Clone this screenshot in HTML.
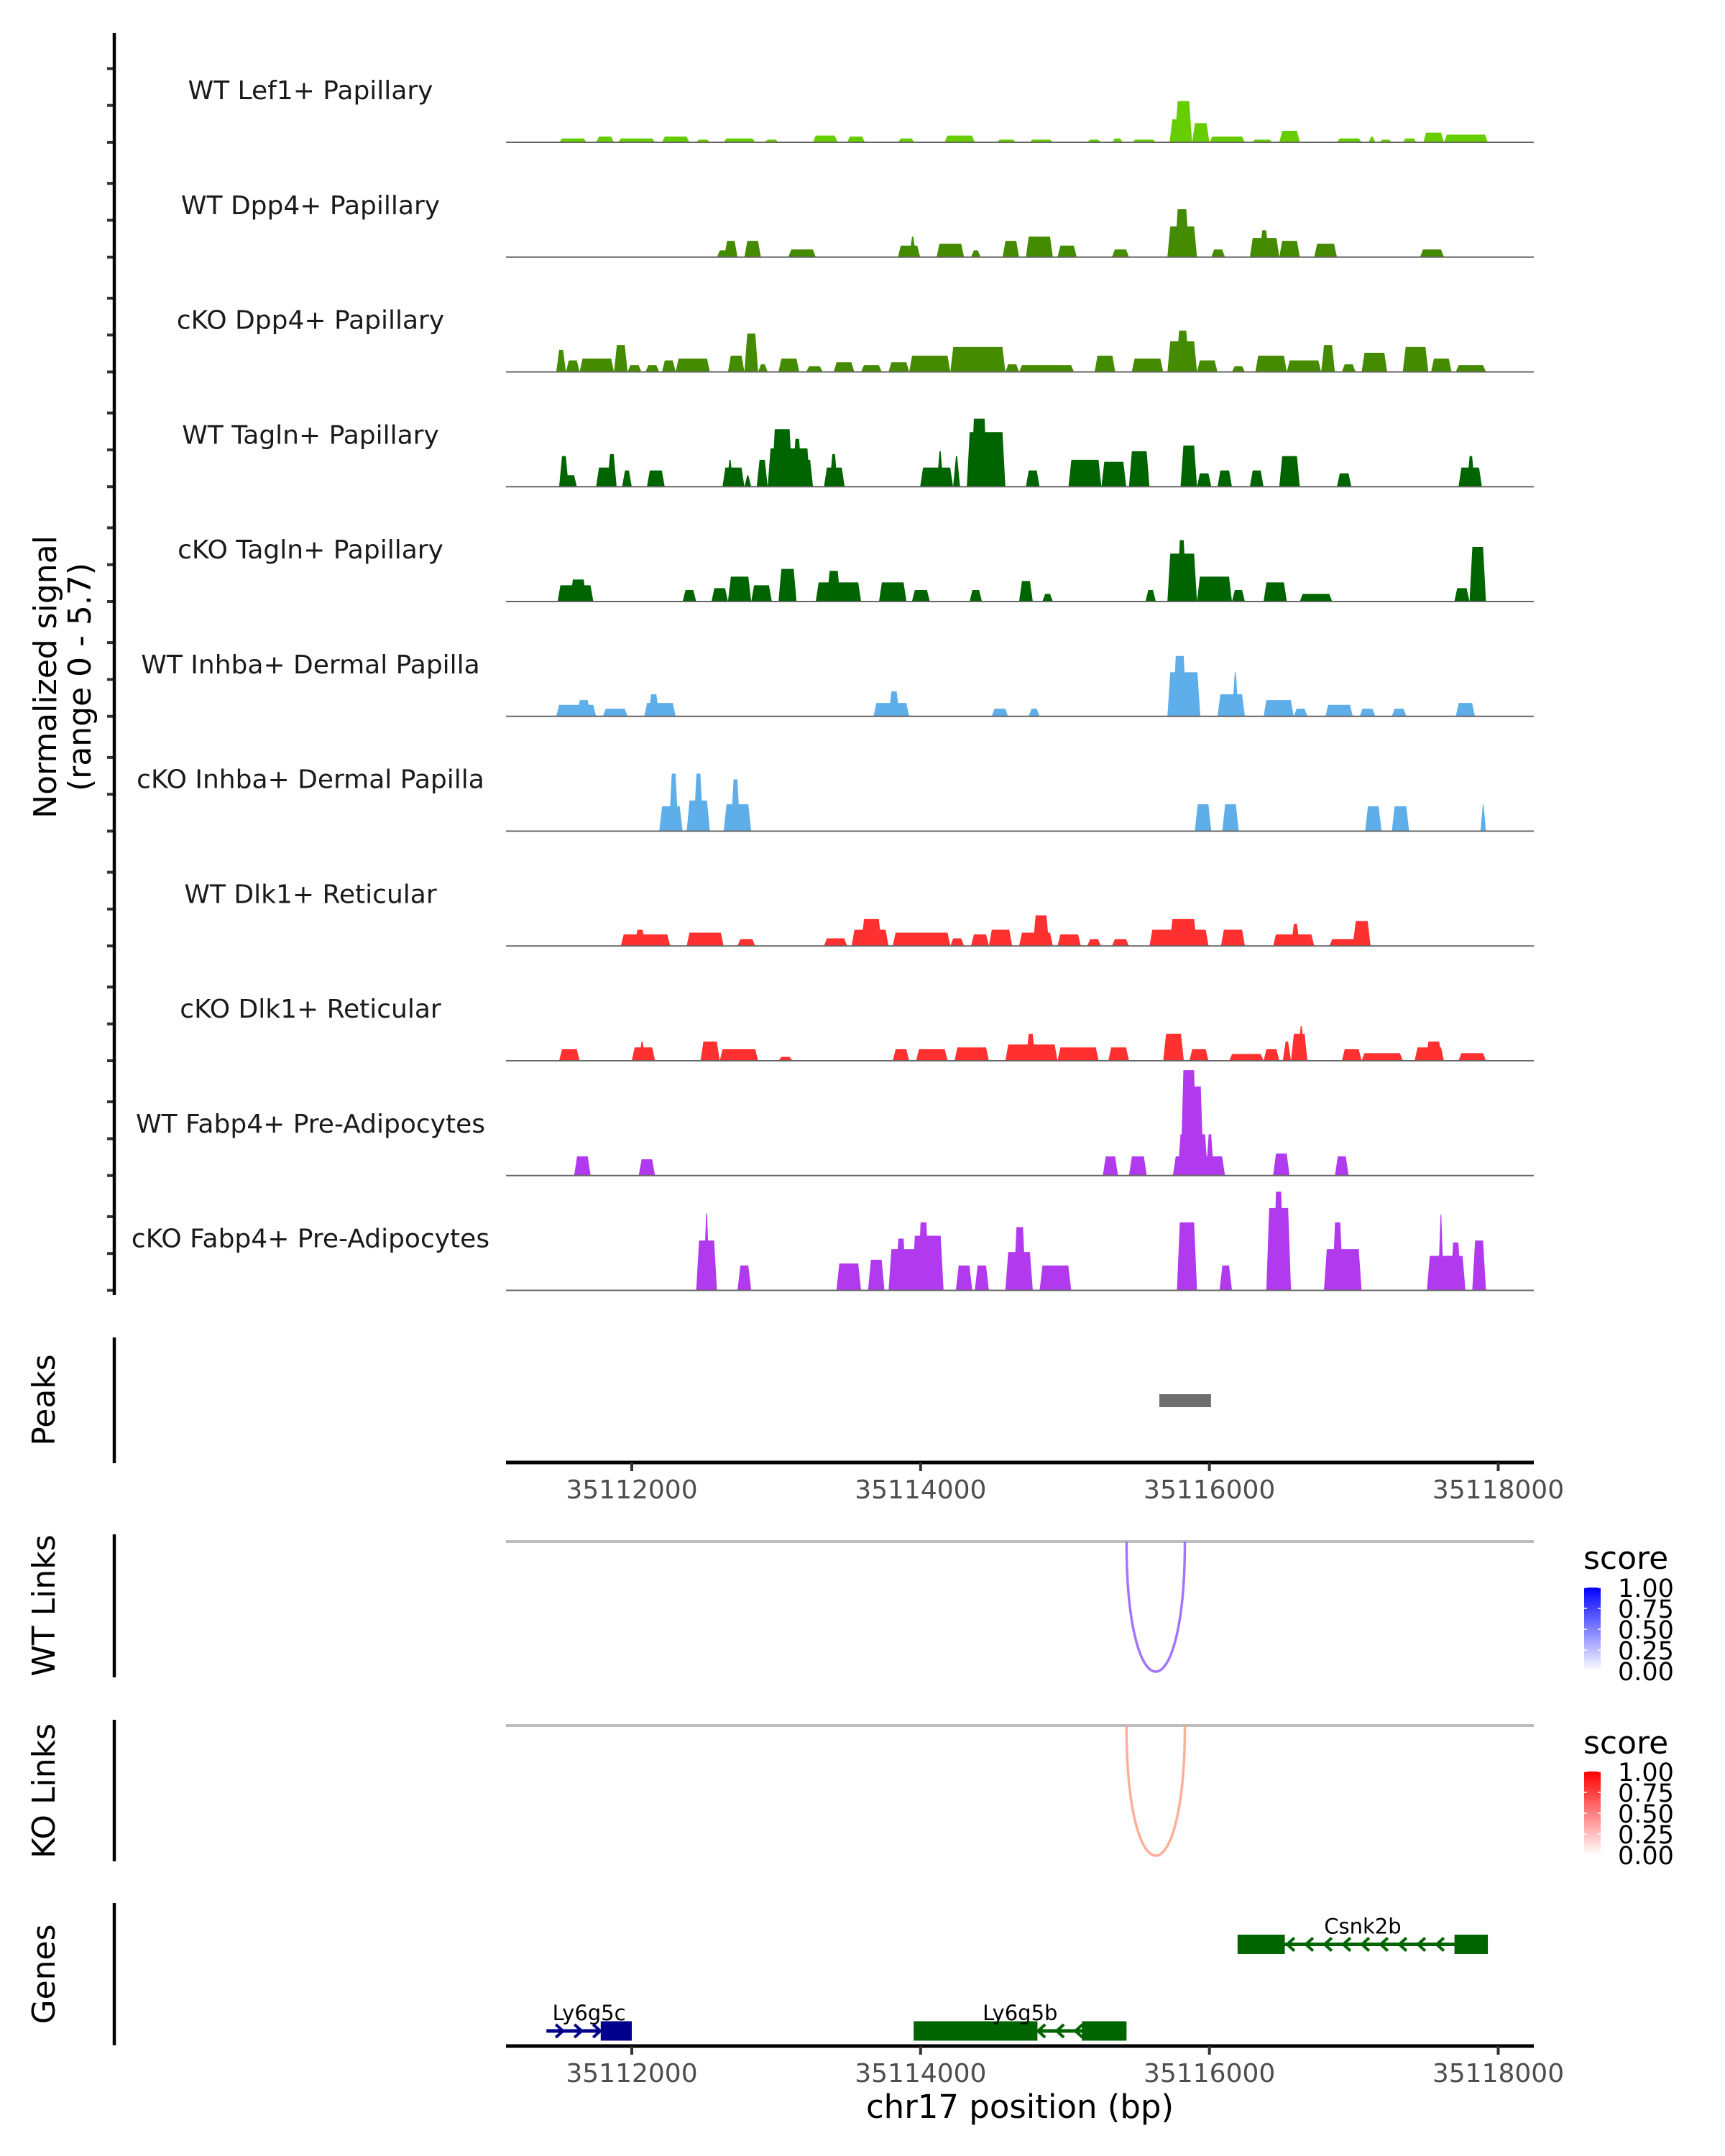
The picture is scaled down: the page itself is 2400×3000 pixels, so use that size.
<!DOCTYPE html>
<html><head><meta charset="utf-8"><style>
html,body{margin:0;padding:0;background:#fff;}
svg{display:block;font-family:"DejaVu Sans","Liberation Sans",sans-serif;}
</style></head><body>
<svg id="chart" xmlns="http://www.w3.org/2000/svg" width="2400" height="3000" viewBox="0 0 2400 3000">
<defs>
<linearGradient id="gradWT" x1="0" y1="1" x2="0" y2="0"><stop offset="0" stop-color="#ffffff"/><stop offset="1" stop-color="#0000ff"/></linearGradient>
<linearGradient id="gradKO" x1="0" y1="1" x2="0" y2="0"><stop offset="0" stop-color="#ffffff"/><stop offset="1" stop-color="#ff0000"/></linearGradient>
</defs>
<g id="tracks"></g>
<g id="axes"></g>
<text transform="translate(78,942) rotate(-90)" text-anchor="middle" font-size="44" fill="#000">Normalized signal</text>
<text transform="translate(126,942) rotate(-90)" text-anchor="middle" font-size="44" fill="#000">(range 0 - 5.7)</text>
</svg>
<script>
const trackNames = ["WT Lef1+ Papillary","WT Dpp4+ Papillary","cKO Dpp4+ Papillary","WT Tagln+ Papillary","cKO Tagln+ Papillary","WT Inhba+ Dermal Papilla","cKO Inhba+ Dermal Papilla","WT Dlk1+ Reticular","cKO Dlk1+ Reticular","WT Fabp4+ Pre-Adipocytes","cKO Fabp4+ Pre-Adipocytes"];
const trackColors = ["#66cd00","#458b00","#458b00","#006400","#006400","#5eaeea","#5eaeea","#ff3030","#ff3030","#b23aee","#b23aee"];
const lef1WT = [[35111497,35111687,0.2],[35111753,35111877,0.3],[35111905,35112161,0.2],[35112209,35112399,0.3],[35112446,35112541,0.14],[35112636,35112855,0.2],[35112921,35113016,0.14],[35113254,35113425,0.35],[35113491,35113615,0.3],[35113843,35113957,0.2],[35114166,35114375,0.35],[35114527,35114660,0.14],[35114755,35114916,0.14],[35115154,35115249,0.14],[35115325,35115401,0.2],[35115467,35115629,0.14],[35115724,35115800,1.2],[35115760,35115880,2.15],[35115880,35116000,1.0],[35116000,35116246,0.3],[35116294,35116436,0.14],[35116484,35116626,0.6],[35116883,35117054,0.2],[35117101,35117149,0.3],[35117177,35117263,0.14],[35117339,35117434,0.2],[35117481,35117624,0.5],[35117624,35117928,0.4]];
const dpp4WT = [[35112590,35112666,0.35],[35112640,35112732,0.85],[35112780,35112894,0.85],[35113084,35113274,0.4],[35113843,35113997,0.6],[35113921,35113969,1.07],[35114111,35114301,0.7],[35114349,35114416,0.35],[35114568,35114682,0.85],[35114729,35114916,1.07],[35114948,35115081,0.6],[35115325,35115443,0.4],[35115709,35115914,1.6],[35115760,35115860,2.5],[35116013,35116108,0.4],[35116280,35116484,1.0],[35116346,35116413,1.4],[35116484,35116626,0.85],[35116726,35116883,0.7],[35117459,35117624,0.4]];
const dpp4KO = [[35111477,35111544,1.15],[35111544,35111639,0.6],[35111639,35111877,0.7],[35111877,35111971,1.4],[35111971,35112067,0.35],[35112095,35112190,0.35],[35112209,35112304,0.6],[35112304,35112541,0.7],[35112666,35112780,0.85],[35112780,35112875,2.0],[35112875,35112941,0.4],[35113016,35113160,0.7],[35113208,35113322,0.3],[35113398,35113541,0.5],[35113588,35113731,0.35],[35113778,35113921,0.5],[35113921,35114206,0.85],[35114206,35114587,1.3],[35114587,35114682,0.4],[35114682,35115062,0.35],[35115205,35115348,0.85],[35115462,35115680,0.7],[35115709,35115914,1.6],[35115770,35115860,2.15],[35115914,35116056,0.6],[35116156,35116246,0.3],[35116318,35116536,0.85],[35116536,35116774,0.6],[35116774,35116869,1.4],[35116917,35117012,0.4],[35117054,35117231,1.0],[35117339,35117516,1.3],[35117535,35117677,0.7],[35117706,35117915,0.35]];
const taglnWT = [[35111497,35111563,1.6],[35111497,35111620,0.6],[35111753,35111877,1.0],[35111829,35111895,1.7],[35111933,35112000,0.85],[35112105,35112228,0.85],[35112628,35112780,1.0],[35112656,35112704,1.4],[35112780,35112827,0.6],[35112865,35112941,1.4],[35112941,35113236,2.0],[35112970,35113113,3.0],[35113113,35113179,2.5],[35113198,35113255,1.4],[35113331,35113474,1.0],[35113369,35113427,1.7],[35113997,35114225,1.0],[35114111,35114159,1.85],[35114225,35114273,1.6],[35114320,35114587,2.85],[35114349,35114463,3.55],[35114729,35114824,0.85],[35115024,35115252,1.4],[35115252,35115424,1.3],[35115443,35115585,1.85],[35115800,35115914,2.15],[35115914,35116013,0.7],[35116056,35116156,0.85],[35116280,35116375,0.85],[35116484,35116626,1.6],[35116883,35116983,0.7],[35117725,35117887,1.0],[35117782,35117839,1.6]];
const taglnKO = [[35111486,35111734,0.85],[35111572,35111687,1.15],[35112352,35112446,0.6],[35112552,35112666,0.7],[35112666,35112827,1.3],[35112827,35112970,0.85],[35113016,35113141,1.7],[35113274,35113588,1.0],[35113350,35113446,1.6],[35113712,35113902,1.0],[35113940,35114064,0.6],[35114339,35114425,0.6],[35114682,35114777,1.07],[35114843,35114916,0.4],[35115557,35115629,0.6],[35115709,35115914,2.5],[35115775,35115842,3.2],[35115914,35116156,1.3],[35116156,35116246,0.6],[35116375,35116536,1.0],[35116626,35116850,0.4],[35117696,35117801,0.7],[35117801,35117915,2.85]];
const inhbaWT = [[35111477,35111753,0.6],[35111620,35111715,0.85],[35111800,35111971,0.4],[35112086,35112304,0.7],[35112114,35112190,1.15],[35113674,35113921,0.7],[35113778,35113854,1.3],[35114492,35114606,0.4],[35114748,35114824,0.4],[35115709,35115937,2.3],[35115747,35115842,3.15],[35116056,35116246,1.15],[35116156,35116203,2.3],[35116375,35116584,0.85],[35116584,35116679,0.4],[35116803,35116993,0.6],[35117040,35117149,0.4],[35117263,35117364,0.4],[35117706,35117839,0.7]];
const inhbaKO = [[35112190,35112352,1.3],[35112257,35112323,3.0],[35112380,35112541,1.6],[35112428,35112495,3.0],[35112636,35112827,1.4],[35112685,35112751,2.7],[35115899,35116013,1.4],[35116089,35116203,1.4],[35117078,35117192,1.3],[35117263,35117383,1.3],[35117877,35117915,1.4]];
const dlk1WT = [[35111924,35112266,0.6],[35112019,35112095,0.85],[35112380,35112636,0.7],[35112732,35112855,0.35],[35113331,35113491,0.4],[35113522,35113778,0.85],[35113588,35113731,1.4],[35113807,35114206,0.7],[35114206,35114301,0.4],[35114349,35114473,0.6],[35114473,35114634,0.85],[35114682,35114916,0.7],[35114777,35114891,1.6],[35114948,35115110,0.6],[35115154,35115249,0.35],[35115325,35115443,0.35],[35115585,35115994,0.85],[35115724,35115914,1.4],[35116080,35116246,0.85],[35116441,35116726,0.6],[35116565,35116626,1.15],[35116831,35117021,0.35],[35116993,35117116,1.3]];
const dlk1KO = [[35111497,35111639,0.6],[35112000,35112161,0.7],[35112048,35112095,1.0],[35112476,35112609,1.0],[35112609,35112875,0.6],[35113016,35113113,0.2],[35113807,35113921,0.6],[35113969,35114187,0.6],[35114235,35114473,0.7],[35114587,35114948,0.85],[35114729,35114796,1.4],[35114948,35115233,0.7],[35115300,35115443,0.7],[35115680,35115823,1.4],[35115861,35115994,0.6],[35116137,35116375,0.35],[35116375,35116484,0.6],[35116508,35116565,1.0],[35116565,35116679,1.4],[35116612,35116660,1.8],[35116917,35117054,0.6],[35117054,35117339,0.4],[35117421,35117624,0.7],[35117497,35117611,1.0],[35117725,35117915,0.4]];
const fabp4WT = [[35111601,35111715,1.0],[35112048,35112161,0.85],[35115262,35115367,1.0],[35115443,35115566,1.0],[35115747,35116089,1.0],[35115780,35115990,2.15],[35115800,35115914,5.5],[35115842,35115960,4.65],[35115975,35116032,2.15],[35116032,35116108,1.0],[35116441,35116555,1.15],[35116869,35116964,1.0]];
const fabp4KO = [[35112446,35112590,2.6],[35112495,35112541,4.0],[35112732,35112827,1.3],[35113417,35113588,1.4],[35113636,35113750,1.6],[35113778,35114159,2.15],[35113826,35113902,2.7],[35113940,35114159,2.85],[35113980,35114060,3.55],[35114244,35114358,1.3],[35114375,35114473,1.3],[35114587,35114777,2.0],[35114644,35114729,3.3],[35114824,35115043,1.3],[35115775,35115914,3.55],[35116070,35116156,1.3],[35116394,35116565,4.3],[35116441,35116517,5.15],[35116793,35117054,2.15],[35116850,35116926,3.55],[35117506,35117773,1.8],[35117582,35117624,3.95],[35117668,35117744,2.5],[35117820,35117915,2.6]];
const trackData = [lef1WT,dpp4WT,dpp4KO,taglnWT,taglnKO,inhbaWT,inhbaKO,dlk1WT,dlk1KO,fabp4WT,fabp4KO];
const xTicks = [35112000,35114000,35116000,35118000];
const peakStarts = [35115653];
const peakEnds = [35116011];
const wtLinkStart = [35115426]; const wtLinkEnd = [35115830]; const wtLinkScore = [0.55];
const koLinkStart = [35115426]; const koLinkEnd = [35115830]; const koLinkScore = [0.45];
const legendTicks = ["1.00","0.75","0.50","0.25","0.00"];
const geneNames = ["Csnk2b","Ly6g5c","Ly6g5b"];
const geneStarts = [35116195,35111409,35113952];
const geneEnds = [35117928,35112000,35115426];
const geneStrand = ["-","+","-"];
const geneRow = [0,1,1];
const geneColors = ["#006400","#00008b","#006400"];
const geneExons = [[[35116195,35116522],[35117697,35117928]],[[35111785,35112000]],[[35113952,35114809],[35115117,35115426]]];

const NS="http://www.w3.org/2000/svg";
const svg=document.getElementById('chart');
function mk(tag,attrs,parent){const e=document.createElementNS(NS,tag);for(const k in attrs)e.setAttribute(k,attrs[k]);(parent||svg).appendChild(e);return e;}
const X0=704, X1=2134;
function xs(bp){return 879+(bp-35112000)*(2084.5-879)/6000;}
const base0=198, trackStep=159.75, yMax=5.7, trackPx=152;
function ys(v){return v/yMax*trackPx;}
const tracksG=document.getElementById('tracks');
const axesG=document.getElementById('axes');
trackData.forEach((segs,i)=>{
  const b=base0+i*trackStep;
  const g=mk('g',{},tracksG);
  
  
  const t=mk('text',{x:432,y:b-60,'text-anchor':'middle','font-size':36,fill:'#1a1a1a'},g);
  t.textContent=trackNames[i];
  
  
  segs.forEach(s=>{
    const x1=xs(s[0]),x2=xs(s[1]),h=ys(s[2]);
    let r=Math.min(4,(x2-x1)/2-0.5); if(r<0)r=0;
    const p=mk('polygon',{points:`${x1},${b} ${x1+r},${b-h} ${x2-r},${b-h} ${x2},${b}`,fill:trackColors[i]},g);
    
    
  });
  const bl=mk('line',{x1:X0,x2:X1,y1:b,y2:b,stroke:'#666','stroke-width':2},g);
  
  
  for(let k=0;k<3;k++){
    const tk=mk('line',{x1:149,x2:159,y1:b-k*51.3,y2:b-k*51.3,stroke:'#333','stroke-width':4},axesG);
    
    
  }
});
function vline(y1,y2,name){const l=mk('line',{x1:159,x2:159,y1:y1,y2:y2,stroke:'#000','stroke-width':4.5},axesG);}
vline(46,1802,'y-axis-line');
vline(1861,2036,'peaks-axis-line');
vline(2135,2334,'wt-links-axis-line');
vline(2393,2590,'ko-links-axis-line');
vline(2648,2846,'genes-axis-line');
function sideLabel(txt,cy,name){const t=mk('text',{transform:`translate(76,${cy}) rotate(-90)`,'text-anchor':'middle','font-size':44,fill:'#000'});t.textContent=txt;}
sideLabel('Peaks',1948,'peaks-label');
sideLabel('WT Links',2234,'wt-links-label');
sideLabel('KO Links',2492,'ko-links-label');
sideLabel('Genes',2747,'genes-label');
peakStarts.forEach((s,i)=>{const r=mk('rect',{x:xs(s),y:1940,width:xs(peakEnds[i])-xs(s),height:18,fill:'#6e6e6e'});});
function xAxis(y,name){
  const l=mk('line',{x1:X0,x2:X1,y1:y,y2:y,stroke:'#000','stroke-width':5});
  
  
  xTicks.forEach(v=>{
    const tk=mk('line',{x1:xs(v),x2:xs(v),y1:y,y2:y+12,stroke:'#333','stroke-width':4});
    
    
    const t=mk('text',{x:xs(v),y:y+50,'text-anchor':'middle','font-size':36,fill:'#4d4d4d'});
    t.textContent=String(v);
    
    
  });
}
xAxis(2035,'peaks-x-axis');
xAxis(2847,'genes-x-axis');
const xt=mk('text',{x:1419,y:2947,'text-anchor':'middle','font-size':45,fill:'#000'});
xt.textContent='chr17 position (bp)';


function links(starts,ends,scores,top,bottom,color,name){
  const gl=mk('line',{x1:X0,x2:X1,y1:top,y2:top,stroke:'#bebebe','stroke-width':4});
  
  
  starts.forEach((s,i)=>{
    const a=xs(s),b=xs(ends[i]);const c=top+(bottom-top)/0.75;
    const p=mk('path',{d:`M${a},${top} C${a},${c} ${b},${c} ${b},${top}`,fill:'none',stroke:color,'stroke-width':3.5,'stroke-opacity':0.35+scores[i]});
    
    
  });
}
links(wtLinkStart,wtLinkEnd,wtLinkScore,2145,2326,'#9966ff','wt-link');
links(koLinkStart,koLinkEnd,koLinkScore,2401,2582,'#ff9a80','ko-link');
function legend(titleY,barTop,grad,name){
  const t=mk('text',{x:2203,y:titleY,'font-size':44,fill:'#000'});t.textContent='score';
  
  
  const r=mk('rect',{x:2204,y:barTop,width:23,height:116,fill:`url(#${grad})`});
  
  
  legendTicks.forEach((lab,i)=>{
    const y=barTop+i*29;
    mk('line',{x1:2204,x2:2208,y1:y,y2:y,stroke:'#fff','stroke-width':1.5});
    mk('line',{x1:2223,x2:2227,y1:y,y2:y,stroke:'#fff','stroke-width':1.5});
    const tl=mk('text',{x:2251,y:y+13,'font-size':35,fill:'#000'});tl.textContent=lab;
    
    
  });
}
legend(2183,2209,'gradWT','wt-legend');
legend(2440,2465,'gradKO','ko-legend');
const rowY=[2705.5,2826];
geneNames.forEach((n,i)=>{
  const y=rowY[geneRow[i]],col=geneColors[i];
  const g=mk('g',{});
  
  
  mk('line',{x1:xs(geneStarts[i]),x2:xs(geneEnds[i]),y1:y,y2:y,stroke:col,'stroke-width':5},g);
  const x1=xs(geneStarts[i]),x2=xs(geneEnds[i]);
  for(let x=x1+20;x<x2-6;x+=26){
    const d=geneStrand[i]==='-'?`M${x+7},${y-9} L${x-3},${y} L${x+7},${y+9}`:`M${x-7},${y-9} L${x+3},${y} L${x-7},${y+9}`;
    mk('path',{d:d,fill:'none',stroke:col,'stroke-width':4},g);
  }
  geneExons[i].forEach(e=>{mk('rect',{x:xs(e[0]),y:y-13.5,width:xs(e[1])-xs(e[0]),height:27,fill:col},g);});
  const t=mk('text',{x:(x1+x2)/2,y:y-15,'text-anchor':'middle','font-size':29,fill:'#000'},g);
  t.textContent=n;
  
  
});
</script>
</body></html>
